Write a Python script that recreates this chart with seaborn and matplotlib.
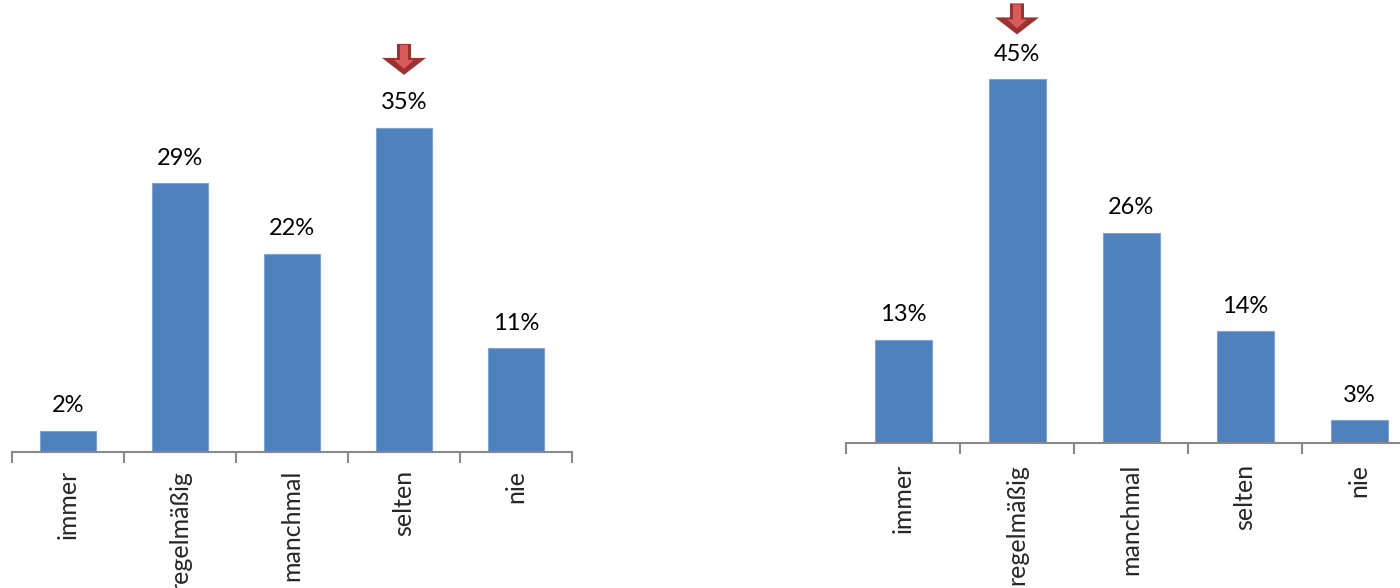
import matplotlib
matplotlib.use("Agg")
import matplotlib.pyplot as plt
import matplotlib.transforms as mtransforms
from matplotlib.patches import Polygon
from matplotlib.ticker import FixedLocator
import seaborn as sns
import pandas as pd

categories = ["immer", "regelmäßig", "manchmal", "selten", "nie"]
left_values = [2.3, 29.0, 21.4, 35.0, 11.2]
left_labels = ["2%", "29%", "22%", "35%", "11%"]
right_values = [12.8, 45.0, 26.0, 13.8, 2.8]
right_labels = ["13%", "45%", "26%", "14%", "3%"]
left_highlight = "selten"
right_highlight = "regelmäßig"

sns.set_style("white")
plt.rcParams["font.family"] = ["Lato", "DejaVu Sans"]

W, H = 1400, 588
fig = plt.figure(figsize=(W / 100, H / 100), dpi=100)

bar_color = "#4F81BD"
axis_color = "#898989"


def make_axes(x0, x1, base_y):
    return fig.add_axes([x0 / W, (H - base_y) / H, (x1 - x0) / W, base_y / H])


def draw_arrow(ax, x, y, tip_off, color_out="#9B3231", color_in="#D65B5A"):
    # vertices in pixels relative to (x, y) in data coords
    tr = mtransforms.ScaledTranslation(x, y, ax.transData)
    top = tip_off + 31
    head = tip_off + 17
    outer = [(-7, top), (7, top), (7, head), (22, head), (0, tip_off),
             (-22, head), (-7, head)]
    inner = [(-4, top - 1), (4, top - 1), (4, head - 2), (10, head - 2),
             (0, tip_off + 6), (-10, head - 2), (-4, head - 2)]
    ax.add_patch(Polygon(outer, closed=True, transform=tr, facecolor=color_out,
                         edgecolor="none", clip_on=False, zorder=5))
    ax.add_patch(Polygon(inner, closed=True, transform=tr, facecolor=color_in,
                         edgecolor="none", clip_on=False, zorder=6))


def panel(ax, values, labels, ymax, highlight, tip_off, pad):
    df = pd.DataFrame({"cat": categories, "val": values})
    sns.barplot(data=df, x="cat", y="val", ax=ax, color=bar_color,
                saturation=1, width=0.5, edgecolor="#7FA3D3", linewidth=0.8)
    ax.set_xlim(-0.5, len(categories) - 0.5)
    ax.set_ylim(0, ymax)
    ax.set_xlabel("")
    ax.set_ylabel("")
    ax.set_yticks([])
    for s in ["top", "right", "left"]:
        ax.spines[s].set_visible(False)
    ax.spines["bottom"].set_color(axis_color)
    ax.spines["bottom"].set_linewidth(1.5)
    ax.xaxis.set_minor_locator(FixedLocator([i - 0.5 for i in range(len(categories) + 1)]))
    ax.tick_params(axis="x", which="minor", bottom=True, length=8, width=1.5,
                   color=axis_color, direction="out")
    ax.tick_params(axis="x", which="major", bottom=False, length=0, pad=pad)
    ax.set_xticks(range(len(categories)))
    ax.set_xticklabels(categories, rotation=90, fontsize=18, va="top", ha="center")
    ax.bar_label(ax.containers[0], labels=labels,
                 padding=10.5, fontsize=17, color="black")
    idx = categories.index(highlight)
    draw_arrow(ax, idx, values[idx], tip_off)


ax1 = make_axes(12, 572, 452)
panel(ax1, left_values, left_labels, 452 / 9.26, left_highlight, 53, 13)

ax2 = make_axes(846, 1416, 443)
panel(ax2, right_values, right_labels, 443 / 8.08, right_highlight, 45, 15)

fig.savefig("out.png", dpi=100)
